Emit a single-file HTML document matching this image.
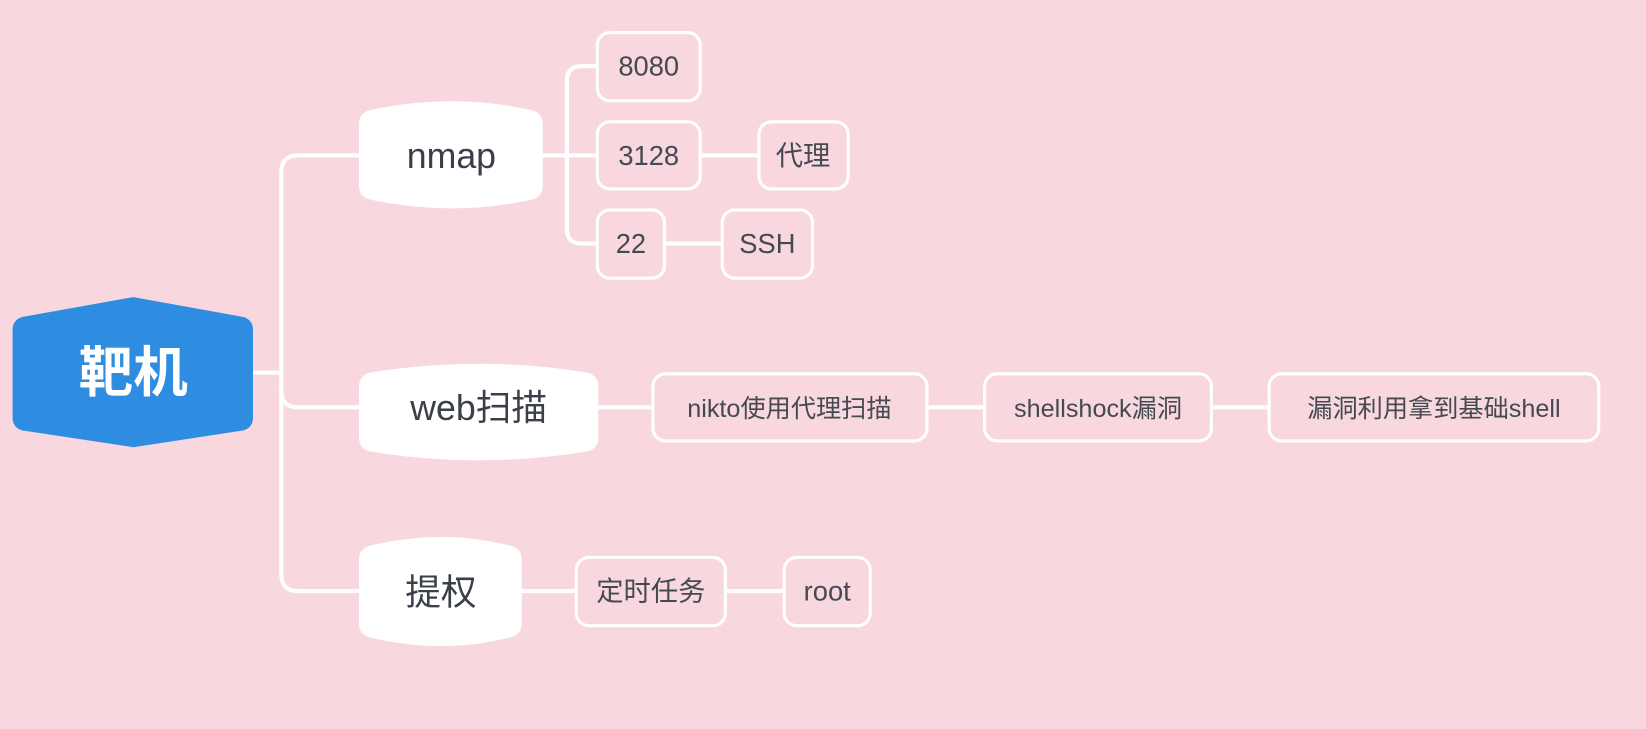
<!DOCTYPE html>
<html><head><meta charset="utf-8"><style>
body{margin:0;background:#f8d7df;}
svg{display:block}
text{font-family:"Liberation Sans","Noto Sans CJK SC",sans-serif;}
</style></head><body>
<svg width="1646" height="729" viewBox="0 0 1568 694.4" preserveAspectRatio="none">
<rect width="1568" height="695" fill="#f8d7df"/>
<g fill="none" stroke="#fff" stroke-width="4">
<path d="M241 355 H268"/>
<path d="M342 148 H284 Q268 148 268 164 V547 Q268 563 284 563 H342"/>
<path d="M268 372 Q268 388 284 388 H342"/>
<path d="M517 148 H568"/>
<path d="M568 63 H554 Q540 63 540 77 V218 Q540 232 554 232 H568"/>
<path d="M668 148 H722"/>
<path d="M634 232 H687"/>
<path d="M570 388 H621"/>
<path d="M884 388 H937"/>
<path d="M1155 388 H1208"/>
<path d="M497 563 H548"/>
<path d="M692 563 H746"/>
</g>
<path d="M127 283 L232 302 Q241 305 241 314 V398 Q241 407 232 410 L127 426 L21 410 Q12 407 12 398 V314 Q12 305 21 302 Z" fill="#2e8de0"/>
<text x="127" y="373" font-size="52" font-weight="bold" fill="#fff" text-anchor="middle">靶机</text>
<g fill="#fff">
<path d="M342 118 Q342 108 352 105 Q430 88 507 105 Q517 108 517 118 V177 Q517 187 507 190 Q430 207 352 190 Q342 187 342 177 Z"/>
<path d="M342 368 Q342 358 352 355 Q456 338 560 355 Q570 358 570 368 V417 Q570 427 560 430 Q456 447 352 430 Q342 427 342 417 Z"/>
<path d="M342 533 Q342 523 352 520 Q420 503 487 520 Q497 523 497 533 V594 Q497 604 487 607 Q420 624 352 607 Q342 604 342 594 Z"/>
</g>
<g font-size="34" fill="#3a3f4a" text-anchor="middle">
<text x="430" y="160">nmap</text>
<text x="456" y="400">web扫描</text>
<text x="420" y="576">提权</text>
</g>
<g fill="none" stroke="#fff" stroke-width="3">
<rect x="569" y="31" width="98" height="65" rx="12"/>
<rect x="569" y="116" width="98" height="64" rx="12"/>
<rect x="569" y="200" width="64" height="65" rx="12"/>
<rect x="723" y="116" width="85" height="64" rx="12"/>
<rect x="688" y="200" width="86" height="65" rx="12"/>
<rect x="622" y="356" width="261" height="64" rx="12"/>
<rect x="938" y="356" width="216" height="64" rx="12"/>
<rect x="1209" y="356" width="314" height="64" rx="12"/>
<rect x="549" y="531" width="142" height="65" rx="12"/>
<rect x="747" y="531" width="82" height="65" rx="12"/>
</g>
<g font-size="26" fill="#454a52" text-anchor="middle">
<text x="618" y="72">8080</text>
<text x="618" y="157">3128</text>
<text x="601" y="241">22</text>
<text x="765" y="157">代理</text>
<text x="731" y="241">SSH</text>
<text x="752" y="397" font-size="24">nikto使用代理扫描</text>
<text x="1046" y="397" font-size="24">shellshock漏洞</text>
<text x="1366" y="397" font-size="24">漏洞利用拿到基础shell</text>
<text x="620" y="572">定时任务</text>
<text x="788" y="572">root</text>
</g>
</svg>
</body></html>
